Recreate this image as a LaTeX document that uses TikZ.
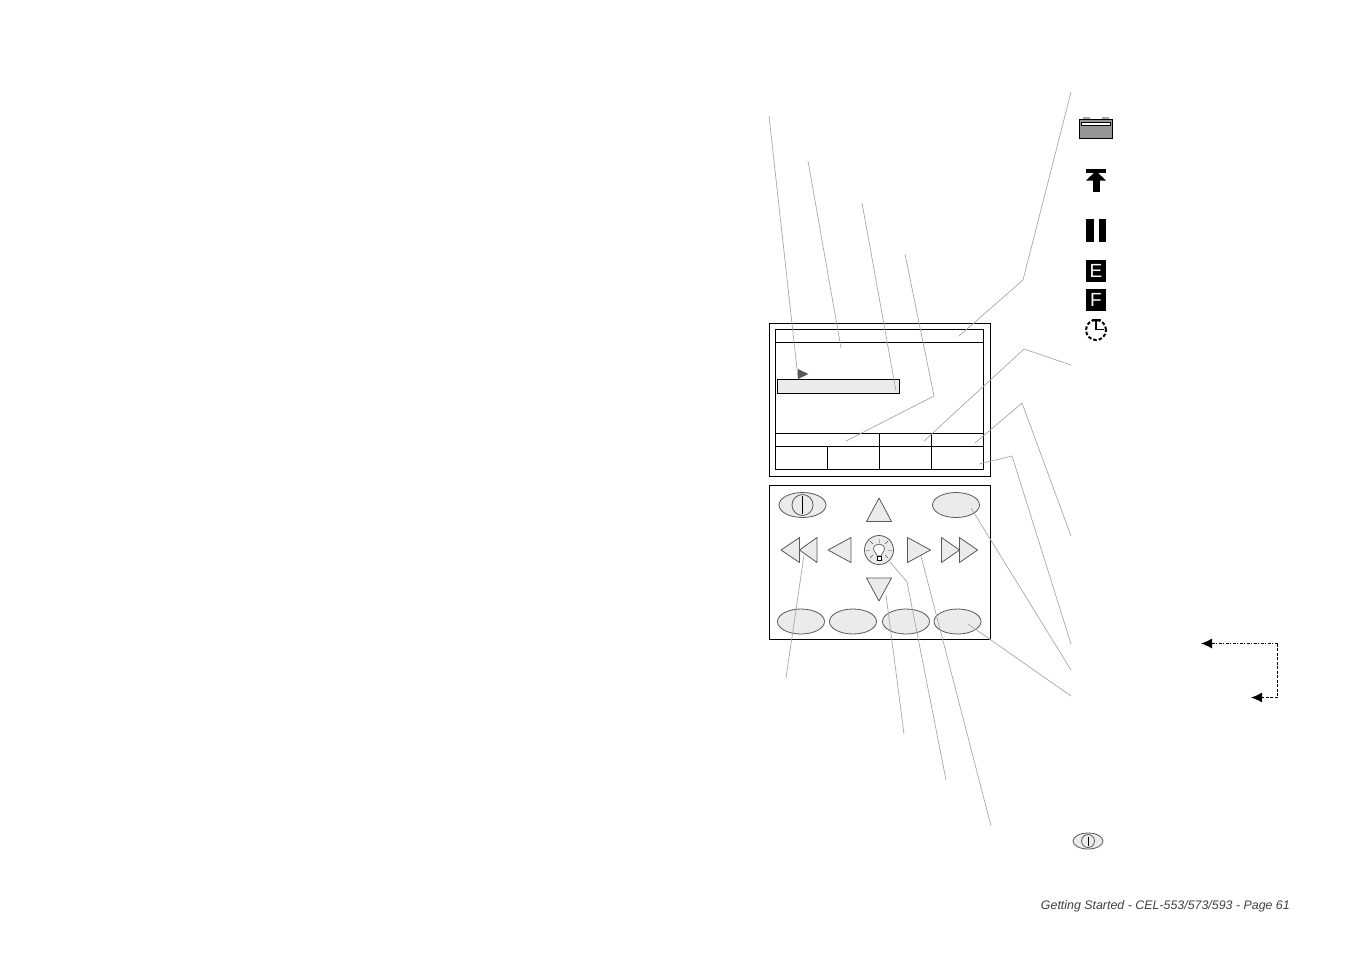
\documentclass[tikz,border=0pt]{standalone}
\usepackage{fontspec}
\setmainfont{Liberation Sans}
\usetikzlibrary{shapes.geometric,arrows.meta}
\definecolor{keygray}{gray}{0.92}
\definecolor{linegray}{gray}{0.66}
\definecolor{edgegray}{gray}{0.35}
\tikzset{
  panel/.style={draw=black,line width=1.3pt},
  leader/.style={draw=linegray,line width=0.7pt},
  softkey/.style={shape=ellipse,draw=edgegray,fill=keygray,line width=0.8pt,minimum width=47pt,minimum height=25pt,inner sep=0pt},
  arrowkey/.style={draw=edgegray,fill=keygray,line width=0.8pt,line join=round},
  flagbox/.style={fill=black,text=white,minimum width=20pt,minimum height=22pt,inner sep=0pt,font=\fontsize{19}{19}\selectfont},
  tiparrow/.style={-{Latex[length=11pt,width=10pt]},draw=black,line width=0.9pt}
}
\begin{document}
\begin{tikzpicture}[x=1pt,y=-1pt]
    \useasboundingbox (0,0) rectangle (1351,954);

    % Display
    \node[panel,minimum width=221pt,minimum height=153pt,inner sep=0pt] (display) at (879.7,399.7) {};
    \node[panel,minimum width=208pt,minimum height=140pt,inner sep=0pt] (screen) at (879.5,399.5) {};
    \draw[panel] (775.5,342.5) -- (983.5,342.5);
    \draw[panel] (775.5,433.5) -- (983.5,433.5);
    \draw[panel] (775.5,446.5) -- (983.5,446.5);
    \draw[panel] (879.5,433.5) -- (879.5,469.5);
    \draw[panel] (931.5,433.5) -- (931.5,469.5);
    \draw[panel] (827.5,446.5) -- (827.5,469.5);
    \node[panel,fill=keygray,minimum width=122pt,minimum height=14pt,inner sep=0pt] (selbar) at (838.5,386.5) {};

    % Keypad
    \node[panel,minimum width=221pt,minimum height=154pt,inner sep=0pt] (keypad) at (880,562.5) {};
    \node[softkey] (power) at (802.5,505) {};
    \node[softkey] (menukey) at (956,505) {};
    \node[softkey] (softa) at (801,621.5) {};
    \node[softkey] (softb) at (853,621.5) {};
    \node[softkey] (softc) at (906,621.5) {};
    \node[softkey] (softd) at (957.5,621.5) {};
    \draw[edgegray,line width=0.8pt] (power) circle (10.5pt);
    \draw[black,line width=1pt] (802.5,496) -- (802.5,514);

    \draw[arrowkey] (879,498) -- (891.5,521.5) -- (866.5,521.5) -- cycle;
    \draw[arrowkey] (866.5,578) -- (891.5,578) -- (879,601) -- cycle;
    \draw[arrowkey] (828,550) -- (851,537.5) -- (851,562.5) -- cycle;
    \draw[arrowkey] (930.5,550) -- (907.5,537.5) -- (907.5,562.5) -- cycle;
    \draw[arrowkey] (781,550) -- (799.5,537.5) -- (799.5,562.5) -- cycle;
    \draw[arrowkey] (799.5,550) -- (817,537.5) -- (817,562.5) -- cycle;
    \draw[arrowkey] (959.5,550) -- (941.5,537.5) -- (941.5,562.5) -- cycle;
    \draw[arrowkey] (977.5,550) -- (959.5,537.5) -- (959.5,562.5) -- cycle;

    % Lamp key
    \node[shape=circle,draw=edgegray,fill=keygray,line width=0.8pt,minimum size=29pt,inner sep=0pt] (lamp) at (879,550) {};
    \draw[linegray,line width=0.7pt] (870,550) -- (866,550) (888,550) -- (892,550) (879,543) -- (879,539);
    \draw[edgegray,line width=0.6pt] (873,544) -- (870,541) (885,544) -- (888,541) (873,555) -- (870,558) (885,555) -- (888,558);
    \draw[black!70,fill=white,line width=0.6pt] (877,556) .. controls (876,552) and (873.5,552) .. (873.5,549) .. controls (873.5,542.5) and (884.5,542.5) .. (884.5,549) .. controls (884.5,552) and (882,552) .. (881,556) -- cycle;
    \draw[black,fill=white,line width=0.9pt] (877,556) rectangle (881,560);

    % Leaders
    \draw[leader] (769,116) -- (798,378);
    \draw[leader] (808,161) -- (841,348);
    \draw[leader] (862,203) -- (896,391);
    \draw[leader] (905,254) -- (934,396) -- (846,441);
    \draw[leader] (1071,92) -- (1023,280) -- (959,336);
    \draw[leader] (1071,365) -- (1024,349) -- (924,441);
    \draw[leader] (1071,536) -- (1022,403) -- (975,443);
    \draw[leader] (1071,644) -- (1012,456) -- (979,464);
    \draw[leader] (1071,670) -- (971,508);
    \draw[leader] (1071,696) -- (968,624);
    \draw[leader] (786,678) -- (804,555);
    \draw[leader] (904,734) -- (886,595);
    \draw[leader] (946,780) -- (907,582) -- (890,562);
    \draw[leader] (991,826) -- (921,556);

    % Cursor sits on its leader
    \fill[black!65] (798,369) -- (808.5,374) -- (798,379) -- cycle;

    % Status icons
    \fill[linegray] (1083,117) rectangle (1090,120) (1102,117) rectangle (1109,120);
    \draw[black,fill=black!42,line width=1pt] (1079.5,119.5) rectangle (1112.5,138);
    \fill[white] (1081.5,122) rectangle (1110.5,125.5);
    \draw[black,line width=0.6pt] (1081.5,122) rectangle (1110.5,125.5);

    \fill[black] (1086,169) rectangle (1106,173);
    \fill[black] (1096,171) -- (1106,180.5) -- (1086,180.5) -- cycle;
    \fill[black] (1092.5,180) rectangle (1099.5,191.5);

    \fill[black] (1086,219) rectangle (1093.5,242);
    \fill[black] (1099,219) rectangle (1106,242);

    \node[flagbox] (emptyflag) at (1096,271) {E};
    \node[flagbox] (fullflag) at (1096,300) {F};

    \draw[black,line width=2pt,dash pattern=on 3.5pt off 2pt] (1096,330) circle (10pt);
    \draw[black,line width=1.6pt] (1091.5,319.5) -- (1100.5,319.5) (1096,319.5) -- (1096,329.5) -- (1104,329.5);

    % Dashed return arrows
    \coordinate (loopa) at (1277.5,643.5);
    \coordinate (loopb) at (1277.5,697.5);
    \coordinate (loopend) at (1201,643.5);
    \coordinate (loopret) at (1251,697.5);
    \draw[tiparrow,dash pattern=on 3pt off 1.5pt on 1pt off 1.5pt] (loopa) -- (loopend);
    \draw[black,line width=0.9pt,dash pattern=on 3pt off 1.5pt] (loopa) -- (loopb);
    \draw[tiparrow,dash pattern=on 3pt off 1.5pt] (loopb) -- (loopret);

    % Small power key
    \node[softkey,minimum width=30pt,minimum height=16pt] (powersmall) at (1088,841) {};
    \draw[edgegray,line width=0.8pt] (powersmall) circle (6.5pt);
    \draw[black,line width=0.8pt] (1088,836.5) -- (1088,845.5);

    \node[anchor=east,inner sep=0pt,text=black!75] (footer) at (1290,906) {\fontsize{12.4}{14}\selectfont\itshape Getting Started - CEL-553/573/593 - Page 61};
\end{tikzpicture}
\end{document}
